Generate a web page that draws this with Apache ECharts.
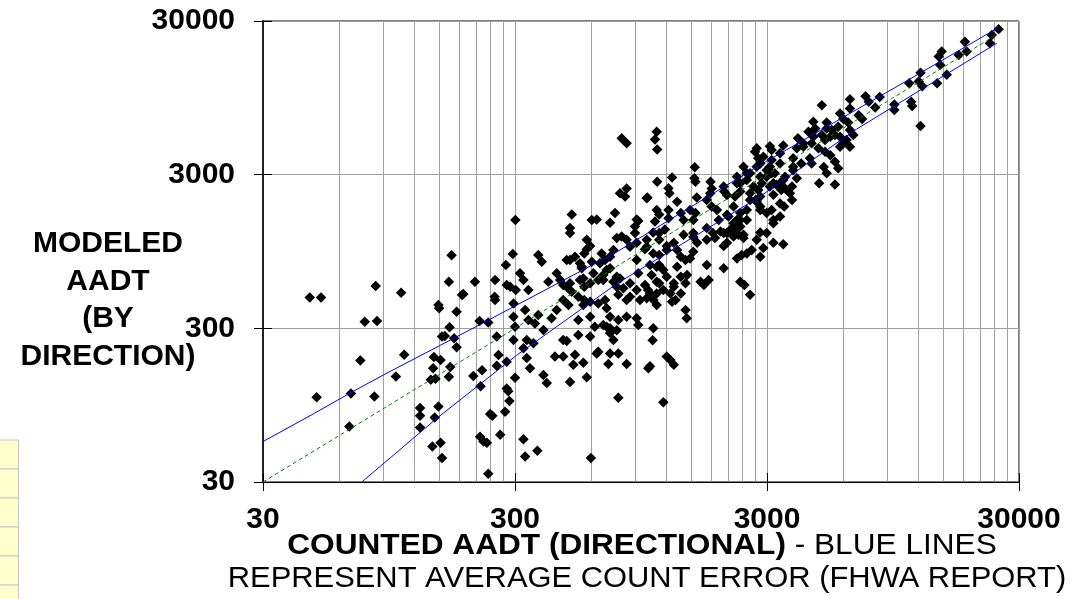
<!DOCTYPE html>
<html><head><meta charset="utf-8">
<script src="https://cdn.jsdelivr.net/npm/echarts@6/dist/echarts.min.js"></script>
<style>html,body{margin:0;padding:0;background:#fff}#c{width:1077px;height:599px}</style>
</head><body><div id="c"></div>
<script>
// [counted AADT, modeled AADT] pairs
const linksBelow300 = [[46,477],[51,477],[84,565],[76,331],[85,335],[106,511],[73,185],[109,202],[49,107],[67,113],[83,108],[101,146],[66,69],[168,897],[164,603],[149,425],[150,405],[154,265],[158,267],[165,305],[172,259],[176,226],[187,502],[185,495],[176,385],[208,603],[250,619],[249,482],[250,458],[217,335],[235,328],[254,265],[143,195],[152,187],[166,168],[164,145],[142,165],[139,139],[145,141],[126,91],[126,81],[126,68],[149,93],[144,79],[141,51],[152,54],[154,43],[205,147],[222,160],[219,126],[258,201],[254,171],[278,182],[300,143],[278,122],[282,117],[285,101],[239,83],[244,81],[274,86],[218,59],[225,55],[232,54],[262,61],[235,34]];
const linksAround300 = [[324,57],[329,44],[368,48],[600,43],[771,106],[496,134],[578,144],[704,176],[832,176],[389,149],[401,132],[432,197],[466,197],[519,202],[560,179],[633,206],[715,206],[771,206],[481,248],[535,271],[596,265],[334,192],[344,165],[296,252],[324,223],[334,252],[355,240],[296,357],[300,307],[329,395],[339,340],[360,323],[371,366],[389,293],[419,349],[439,395],[296,436],[302,532],[278,574],[287,559],[276,775],[294,913],[314,684],[324,619],[339,532],[371,900],[383,814],[407,603],[439,684],[466,574],[496,589],[496,834],[519,877],[552,755],[560,634],[614,684],[672,619],[535,340],[596,357],[672,315],[715,300],[760,291],[560,425],[642,436],[693,405],[832,357],[912,349],[912,532],[1000,470],[912,834],[858,1019],[1000,1019],[1014,165],[858,589],[925,684]];
const linksAround1000 = [[795,5170],[832,4800],[783,2270],[832,2440],[820,2160],[1000,2110],[504,1650],[301,1520],[496,1350],[496,1250],[605,1520],[633,1530],[715,1460],[748,1690],[912,1530],[925,1500],[578,1130],[596,1030],[795,1190],[832,1130],[898,1250],[912,1080],[1000,1130],[565,920],[662,920],[737,970],[760,1160],[683,834],[715,737],[760,650],[737,603],[481,834],[552,737]];
const linksUpperMid = [[1095,5700],[1078,5090],[1100,4380],[1550,3350],[1545,2840],[1560,2700],[1260,2880],[1100,2700],[1220,2450],[1230,2270],[1005,2130],[1320,2000],[1580,2130],[1790,2700],[1810,2440],[1785,2270],[2020,2510],[2030,2330],[1095,1770],[1120,1650],[1078,1485],[1220,1770],[1220,1560],[1365,1690],[1400,1520],[1485,1770],[1560,1690],[1530,1520],[1730,2050],[1810,1860],[1900,1770],[2080,2210],[2240,2160],[2210,1860],[1930,1520],[2110,1600],[2280,1520],[2350,1380],[2420,3380],[2495,3060],[2730,4450],[2690,4230],[2770,3830],[3080,4600],[3130,4340],[2820,3550],[2990,3210],[2280,2910],[2350,2640],[2650,2510],[2770,2380],[2820,2160],[3080,2510],[3180,2220],[2570,2050],[2730,2000],[2820,1770],[3130,1770],[3180,1450],[2820,1260],[1060,1260],[1120,1250],[1400,1220],[1530,1180],[1730,1350],[1830,1250],[1960,1280],[2080,1250],[2210,1320],[2310,1220],[2420,1220]];
const linksCentral = [[898,1380],[578,980],[543,795],[605,814],[652,795],[715,877],[693,718],[672,667],[642,619],[453,619],[481,559],[504,519],[466,458],[489,425],[543,619],[565,559],[596,589],[535,482],[565,458],[596,447],[683,458],[783,634],[760,559],[807,548],[771,497],[832,458],[858,482],[715,357],[771,340],[925,315],[1030,506],[1062,458],[1095,425],[940,458],[984,574],[1012,532],[1120,589],[1163,532],[1095,603],[1240,506],[1300,458],[1365,506],[1280,559],[1030,775],[1095,755],[1163,718],[1045,667],[1200,650],[1280,589],[984,980],[1061,920],[1120,900],[1200,970],[1120,1130],[1200,1030],[1280,1080],[1320,970],[1180,1320],[1365,877],[1425,834],[1485,855],[1320,755],[1365,650],[1445,667],[1730,775],[1635,603],[1685,574],[1760,619],[1425,395],[1440,349],[1061,300],[1200,197],[1240,187],[1280,174],[1030,170],[1730,1130],[1865,1160],[2020,1030],[2080,1080],[2210,1190],[2020,737],[2080,1645],[2210,1450],[2350,1520],[2495,1770],[2420,1160],[2280,855],[2380,900],[2495,920],[2610,970],[2350,603],[2440,574],[2570,497],[1530,1250],[1585,1083],[1530,945],[466,252],[622,307],[693,307],[715,280],[737,252],[511,174],[642,211],[3480,1056],[2820,877],[1425,589],[1260,447],[1055,251],[1163,99],[1095,506],[1120,775]];
const linksAbove3000 = [[24900,26500],[23400,24300],[23000,21500],[18300,22000],[18600,19000],[17300,18000],[14800,19000],[14400,17600],[14600,15500],[14200,11800],[15500,13400],[12200,13800],[12000,12100],[12400,11300],[11000,11800],[11200,8950],[11300,8400],[9600,8600],[9600,7900],[12200,6230],[8400,9600],[6400,9300],[7380,9700],[7600,8950],[6930,7300],[7150,6900],[6400,8100],[8060,8200],[4950,8500],[5850,7500],[6020,6900],[6300,6550],[5175,6550],[5420,5850],[5750,6150],[5580,5430],[4580,6620],[4660,6000],[4950,5430],[5100,5040],[5350,5300],[6400,5850],[6600,5430],[6020,4800],[5850,4560],[4180,4560],[4510,4800],[4800,4450],[5100,4230],[5350,4020],[5580,3640],[5750,3300],[5040,3360],[5175,3060],[4830,2640],[5580,2590],[3810,3830],[4100,3550],[3480,4640],[3380,4130],[3810,3210],[3940,2840],[3770,2510],[3080,3380],[3220,3060],[2990,2910],[2860,2640],[3380,2640],[3540,2440],[3700,2270],[4510,5530],[4580,5300],[2900,3920],[3130,3735],[3380,3550],[2820,2910],[3180,2640],[3540,2910],[3420,2380],[3810,3380],[2730,3380],[2570,3060],[3130,3060],[3270,2575],[3480,2770],[3770,2050],[2570,2270],[2700,2050],[2280,2640],[2350,2330],[2495,2770],[3380,1950],[3510,1860],[2820,1860],[2990,1690],[3180,1520],[3380,1600],[2350,1690],[2495,1520],[2280,1450],[2150,1320],[2020,1250],[2990,1250],[2730,1130],[3180,1080],[2900,1000],[4380,5700],[5175,6000],[5850,5300],[6200,5040],[6400,4560],[3980,5170],[4180,4800],[3940,4450],[4440,3830],[4510,3550]];

// Average count error bounds (blue) and equality line (green)
const upperErrorX = [30, 48, 66, 90, 220, 750, 2800, 11000, 24500];
const upperErrorY = [55, 84, 113, 149, 320, 930, 3450, 12500, 26800];
const lowerErrorX = [74, 147, 304, 760, 2800, 6800, 24500];
const lowerErrorY = [30, 78, 200, 585, 2150, 5930, 21500];
const equalityX = [30, 25000];
const equalityY = [30, 25000];

// Axis ticks / grid values
const decadeTicks = [30, 300, 3000, 30000];
const xGridValues = [30,60,90,120,150,180,210,240,270,300,600,900,1200,1500,1800,2100,2400,2700,3000,6000,9000,12000,15000,18000,21000,24000,27000,30000];

const FONT = '"Liberation Sans", Arial, Helvetica, sans-serif';
const allLinks = [].concat(linksBelow300, linksAround300, linksAround1000, linksUpperMid, linksCentral, linksAbove3000);
const zip = (xs, ys) => xs.map((x, i) => [x, ys[i]]);

const chart = echarts.init(document.getElementById('c'), null, {renderer: 'canvas'});
const tableRows = [440, 469, 498, 527, 556, 585];
chart.setOption({
  animation: false,
  backgroundColor: '#fff',
  grid: {left: 263, top: 21, right: 58, bottom: 117, show: true, borderColor: '#000', borderWidth: 1,
         backgroundColor: 'transparent', containLabel: false, outerBoundsMode: 'none'},
  xAxis: [{
    type: 'log', logBase: 10, min: 30, max: 30000, position: 'bottom',
    axisLine: {show: true, onZero: false, lineStyle: {color: '#000', width: 1}},
    axisTick: {show: false, customValues: xGridValues},
    axisLabel: {customValues: decadeTicks, fontFamily: FONT, fontSize: 30, fontWeight: 'bold', color: '#000', margin: 23,
                formatter: v => String(Math.round(v))},
    splitLine: {show: true, lineStyle: {color: '#a0a0a0', width: 1}},
    minorTick: {show: false}, minorSplitLine: {show: false}
  }, {
    type: 'log', logBase: 10, min: 30, max: 30000, position: 'bottom', offset: -9,
    axisLine: {show: false},
    axisTick: {show: true, customValues: decadeTicks, length: 18, lineStyle: {color: '#000', width: 1}},
    axisLabel: {show: false}, splitLine: {show: false}
  }],
  yAxis: [{
    type: 'log', logBase: 10, min: 30, max: 30000, position: 'left',
    axisLine: {show: true, onZero: false, lineStyle: {color: '#222', width: 2}},
    axisTick: {show: false, customValues: decadeTicks},
    axisLabel: {customValues: decadeTicks, fontFamily: FONT, fontSize: 30, fontWeight: 'bold', color: '#000', margin: 28,
                formatter: v => String(Math.round(v))},
    splitLine: {show: true, lineStyle: {color: '#a0a0a0', width: 1}},
    minorTick: {show: false}, minorSplitLine: {show: false}
  }, {
    type: 'log', logBase: 10, min: 30, max: 30000, position: 'left', offset: -9,
    axisLine: {show: false},
    axisTick: {show: true, customValues: decadeTicks, length: 18, lineStyle: {color: '#000', width: 1}},
    axisLabel: {show: false}, splitLine: {show: false}
  }],
  series: [
    {type: 'scatter', name: 'Links', data: allLinks, symbol: 'diamond', symbolSize: 10.5,
     itemStyle: {color: '#000', opacity: 1}, z: 2, silent: true},
    {type: 'line', name: 'Upper error', data: zip(upperErrorX, upperErrorY), symbol: 'none',
     lineStyle: {color: '#0000ff', width: 1}, z: 4, silent: true},
    {type: 'line', name: 'Lower error', data: zip(lowerErrorX, lowerErrorY), symbol: 'none',
     lineStyle: {color: '#0000ff', width: 1}, z: 4, silent: true},
    {type: 'line', name: 'Equality', data: zip(equalityX, equalityY), symbol: 'none',
     lineStyle: {color: '#008000', width: 1, type: [4, 3]}, z: 3, silent: true}
  ],
  graphic: [
    {type: 'text', x: 108, y: 300, silent: true,
     style: {text: 'MODELED\nAADT\n(BY\nDIRECTION)', fontFamily: FONT, fontSize: 30, fontWeight: 'bold',
             fill: '#000', align: 'center', verticalAlign: 'middle', lineHeight: 37.5}},
    {type: 'text', x: 642, y: 546, scaleX: 1.09, silent: true,
     style: {text: '{b|COUNTED AADT (DIRECTIONAL)}{n| - BLUE LINES}', align: 'center', verticalAlign: 'middle',
             rich: {b: {fontFamily: FONT, fontSize: 29, fontWeight: 'bold', fill: '#000'},
                    n: {fontFamily: FONT, fontSize: 29, fontWeight: 'normal', fill: '#000'}}}},
    {type: 'text', x: 647, y: 579, scaleX: 1.065, silent: true,
     style: {text: 'REPRESENT AVERAGE COUNT ERROR (FHWA REPORT)', fontFamily: FONT, fontSize: 29,
             fill: '#000', align: 'center', verticalAlign: 'middle'}}
  ].concat(tableRows.map(y => ({type: 'rect', silent: true, z: -1,
     shape: {x: -2, y: y, width: 20.5, height: 29},
     style: {fill: '#FFFFCC', stroke: '#C8C8C8', lineWidth: 1}})))
});
</script>
</body></html>
